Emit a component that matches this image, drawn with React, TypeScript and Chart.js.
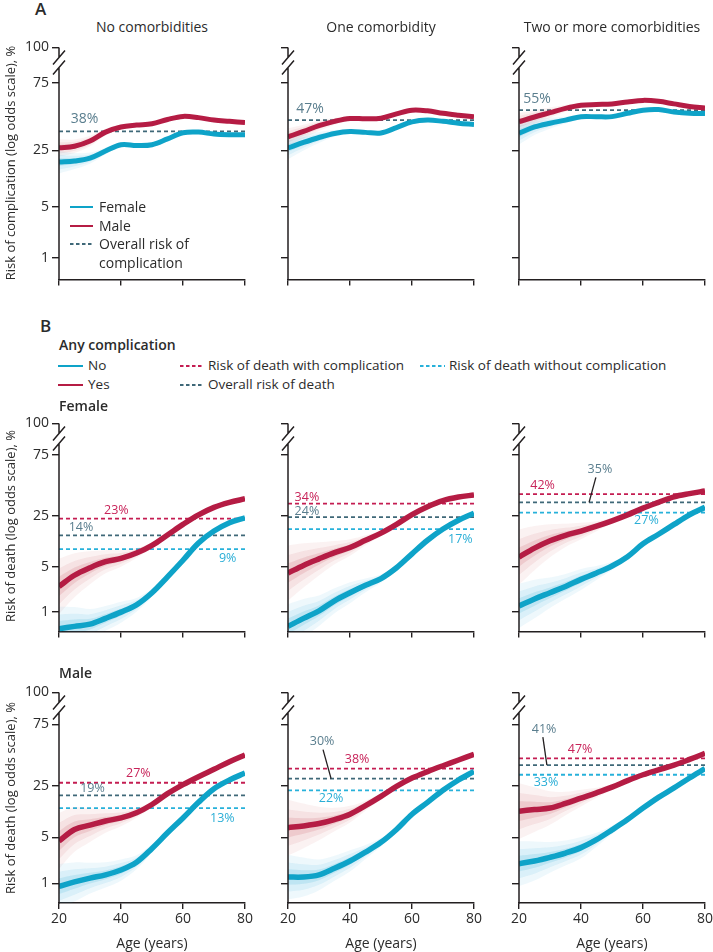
import React, { useEffect, useRef } from "react";
import { Chart, registerables } from "chart.js";

Chart.register(...registerables);

const FONT = "'Open Sans', 'Noto Sans', sans-serif";
const TEXT = "#2b2b2b";
const AXIS = "#231f20";

// ---------- data ----------
const AGES = [20, 25, 30, 35, 40, 45, 50, 55, 60, 65, 70, 75, 80];
const X_TICKS = [20, 40, 60, 80];
const Y_TICKS_PCT = [1, 5, 25, 75];
const Y_TICK_LABELS = ["1", "5", "25", "75", "100"];
const COLUMN_TITLES = ["No comorbidities", "One comorbidity", "Two or more comorbidities"];

// Panel A: risk of complication (%)
const A_FEMALE_0 = [18.5, 19, 20.5, 24.5, 28.5, 28, 28.5, 32.5, 37, 37.5, 36, 35.5, 35.5];
const A_MALE_0 = [26.5, 27.5, 31, 37.5, 41.5, 43, 44, 47.5, 50, 49, 47, 46, 45];
const A_FEMALE_1 = [26.4, 30, 33.5, 36.5, 38, 37.3, 36.8, 41, 45.5, 47, 46, 44.5, 43.5];
const A_MALE_1 = [34, 38, 42.5, 46, 48.3, 48, 48.5, 52, 55, 54.5, 52.5, 51, 49.7];
const A_FEMALE_2 = [36.7, 41.5, 44.5, 47, 49.7, 49.7, 49.8, 52.5, 55, 55.5, 53.6, 52.5, 52.3];
const A_MALE_2 = [45.7, 49.5, 53, 56.5, 58.9, 59.5, 60, 61.5, 62.7, 62, 60, 58, 56.7];
const A_OVERALL = [38, 47, 55];

// Panel B: risk of death (%), female
const BF_NO_0 = [0.55, 0.6, 0.65, 0.8, 1.0, 1.3, 2.0, 3.5, 6.2, 11, 16, 20.5, 23.5];
const BF_YES_0 = [2.5, 3.7, 4.8, 5.9, 6.6, 7.9, 10.2, 14.2, 19.5, 25.5, 31, 35, 38];
const BF_NO_1 = [0.6, 0.8, 1.05, 1.5, 2, 2.6, 3.3, 4.8, 7.7, 12, 17, 22, 26.7];
const BF_YES_1 = [4, 5.2, 6.5, 8, 9.5, 12, 15, 19.5, 25.7, 31.5, 36.5, 39.5, 41.3];
const BF_NO_2 = [1.25, 1.6, 2, 2.5, 3.2, 4, 5.1, 7, 10.7, 14.5, 19.5, 25.5, 31];
const BF_YES_2 = [6.9, 9.3, 11.8, 14, 16, 18.5, 21.6, 25.5, 30.4, 35, 39.7, 42.5, 44.8];
const BF_WITH = [23, 34, 42];
const BF_OVERALL = [14, 24, 35];
const BF_WITHOUT = [9, 17, 27];

// Panel B: risk of death (%), male
const BM_NO_0 = [0.9, 1.05, 1.2, 1.35, 1.6, 2.1, 3.4, 5.8, 9.5, 15.5, 23, 29, 34.3];
const BM_YES_0 = [4.4, 6.5, 7.5, 8.6, 9.5, 11.2, 14.5, 20, 25.7, 31.5, 37.5, 44, 50];
const BM_NO_1 = [1.25, 1.25, 1.35, 1.7, 2.2, 3, 4.2, 6.5, 10.7, 15.5, 22, 29, 35.7];
const BM_YES_1 = [6.9, 7.3, 7.9, 9, 10.7, 14, 18.5, 24.5, 30.4, 35.5, 40.5, 45.5, 50.5];
const BM_NO_2 = [2, 2.2, 2.5, 2.9, 3.5, 4.6, 6.4, 9, 13, 18, 23.5, 30.5, 38];
const BM_YES_2 = [11.8, 12.4, 13, 15, 17.6, 20.5, 24, 28.5, 33, 37, 41, 46, 51.4];
const BM_WITH = [27, 38, 47];
const BM_OVERALL = [19, 30, 41];
const BM_WITHOUT = [13, 22, 33];

// spread of the bootstrap bundle (log odds units)
const SPREAD_A_MALE = [0.28, 0.22, 0.17, 0.11, 0.08, 0.06, 0.06, 0.06, 0.06, 0.06, 0.06, 0.06, 0.06];
const SPREAD_A_FEMALE = [0.37, 0.26, 0.18, 0.11, 0.08, 0.06, 0.06, 0.06, 0.06, 0.06, 0.06, 0.06, 0.06];
const SPREAD_B_YES = [1.0, 0.8, 0.6, 0.42, 0.3, 0.18, 0.1, 0.08, 0.07, 0.07, 0.07, 0.07, 0.07];
const SPREAD_B_NO = [0.8, 0.7, 0.55, 0.45, 0.38, 0.25, 0.15, 0.09, 0.07, 0.07, 0.07, 0.07, 0.07];

// ---------- styles / layout ----------
const BLUE = "#0ea3c8";
const RED = "#b51c44";
const BLUE_BANDS = ["rgba(40,168,212,0.08)", "rgba(40,168,212,0.10)", "rgba(20,160,205,0.14)"];
const RED_BANDS = ["rgba(205,85,95,0.08)", "rgba(200,75,90,0.10)", "rgba(190,55,75,0.14)"];
const BAND_FRACTIONS = [1, 0.65, 0.35];
const DASH_SLATE = "#3f6878";
const DASH_RED = "#c41d52";
const DASH_CYAN = "#27b1da";
const LBL_SLATE = "#5a7e8e";
const LBL_RED = "#c8245a";
const LBL_CYAN = "#2aaed6";

const Y_MIN = -5.3;
const Y_TOP = 2.24;
const COL_X0 = [59, 288, 519];
const PLOT_W = 186;
const ROWS = [
  { top: 44, h: 237, xLabels: false },
  { top: 420, h: 213, xLabels: false },
  { top: 689, h: 214, xLabels: true },
];

const A_LABEL_POS = [
  { age: 28.2, dy: -12 },
  { age: 27.1, dy: -11 },
  { age: 25.8, dy: -11 },
];
// order per column: with, overall, without
const BF_LABEL_POS = [
  [{ age: 38.5, dy: -8 }, { age: 27.1, dy: -8 }, { age: 74.4, dy: 9 }],
  [{ age: 26.1, dy: -6 }, { age: 26.1, dy: -6 }, { age: 75.6, dy: 10 }],
  [{ age: 27.6, dy: -9 }, { age: 46.1, dy: -33, leader: [44.8, -25, 42.6, 0] }, { age: 61.1, dy: 8 }],
];
const BM_LABEL_POS = [
  [{ age: 45.6, dy: -9 }, { age: 30.8, dy: -7 }, { age: 72.7, dy: 10 }],
  [{ age: 42.3, dy: -9 }, { age: 31, dy: -37, leader: [31.3, -29, 33.9, 0] }, { age: 33.9, dy: 8 }],
  [{ age: 39.7, dy: -9 }, { age: 28.1, dy: -36, leader: [27.7, -28, 29, 0] }, { age: 28.7, dy: 8 }],
];

const logit = (p: number) => Math.log(p / (100 - p));

type DashSpec = {
  value: number;
  color: string;
  textColor: string;
  age: number;
  dy: number;
  fontSize: number;
  leader?: number[];
};
type SeriesSpec = { values: number[]; spread: number[]; color: string; bands: string[]; width: number };
type PanelSpec = {
  row: number;
  col: number;
  series: SeriesSpec[];
  dashes: DashSpec[];
};

function buildPanels(): PanelSpec[] {
  const out: PanelSpec[] = [];
  const aF = [A_FEMALE_0, A_FEMALE_1, A_FEMALE_2];
  const aM = [A_MALE_0, A_MALE_1, A_MALE_2];
  for (let c = 0; c < 3; c++) {
    out.push({
      row: 0,
      col: c,
      series: [
        { values: aF[c], spread: SPREAD_A_FEMALE, color: BLUE, bands: BLUE_BANDS, width: 5 },
        { values: aM[c], spread: SPREAD_A_MALE, color: RED, bands: RED_BANDS, width: 5 },
      ],
      dashes: [
        { value: A_OVERALL[c], color: DASH_SLATE, textColor: LBL_SLATE, fontSize: 14, ...A_LABEL_POS[c] },
      ],
    });
  }
  const groups = [
    { row: 1, no: [BF_NO_0, BF_NO_1, BF_NO_2], yes: [BF_YES_0, BF_YES_1, BF_YES_2], w: BF_WITH, o: BF_OVERALL, wo: BF_WITHOUT, pos: BF_LABEL_POS },
    { row: 2, no: [BM_NO_0, BM_NO_1, BM_NO_2], yes: [BM_YES_0, BM_YES_1, BM_YES_2], w: BM_WITH, o: BM_OVERALL, wo: BM_WITHOUT, pos: BM_LABEL_POS },
  ];
  for (const g of groups) {
    for (let c = 0; c < 3; c++) {
      out.push({
        row: g.row,
        col: c,
        series: [
          { values: g.no[c], spread: SPREAD_B_NO, color: BLUE, bands: BLUE_BANDS, width: 5.5 },
          { values: g.yes[c], spread: SPREAD_B_YES, color: RED, bands: RED_BANDS, width: 5.5 },
        ],
        dashes: [
          { value: g.w[c], color: DASH_RED, textColor: LBL_RED, fontSize: 12.5, ...g.pos[c][0] },
          { value: g.o[c], color: DASH_SLATE, textColor: LBL_SLATE, fontSize: 12.5, ...g.pos[c][1] },
          { value: g.wo[c], color: DASH_CYAN, textColor: LBL_CYAN, fontSize: 12.5, ...g.pos[c][2] },
        ],
      });
    }
  }
  return out;
}

const PANELS = buildPanels();

function Panel({ spec }: { spec: PanelSpec }) {
  const ref = useRef<HTMLCanvasElement>(null);
  const row = ROWS[spec.row];
  const xH = row.xLabels ? 40 : 10;
  const w = 50 + PLOT_W + 10;
  const h = 8 + row.h + xH;
  const left = COL_X0[spec.col] - 50;
  const top = row.top - 8;
  const showY = spec.col === 0;

  useEffect(() => {
    if (!ref.current) return;
    const pts = (arr: number[]) => AGES.map((a, i) => ({ x: a, y: arr[i] }));
    const datasets: any[] = [];
    spec.dashes.forEach((d) => {
      datasets.push({
        data: [
          { x: 20, y: logit(d.value) },
          { x: 80, y: logit(d.value) },
        ],
        borderColor: d.color,
        borderWidth: 1.8,
        borderDash: [4, 3],
        pointRadius: 0,
        fill: false,
        order: 5,
      });
    });
    spec.series.forEach((s) => {
      const mid = s.values.map(logit);
      const base = { pointRadius: 0, borderWidth: 0, tension: 0.35, clip: 0, order: 3 };
      BAND_FRACTIONS.forEach((f, k) => {
        datasets.push({ ...base, data: pts(mid.map((m, i) => m - s.spread[i] * f)), fill: false });
        datasets.push({ ...base, data: pts(mid.map((m, i) => m + s.spread[i] * f)), fill: "-1", backgroundColor: s.bands[k] });
      });
    });
    spec.series.forEach((s) => {
      datasets.push({
        data: pts(s.values.map(logit)),
        borderColor: s.color,
        borderWidth: s.width,
        pointRadius: 0,
        tension: 0.35,
        fill: false,
        clip: 0,
        order: 0,
      });
    });

    const brokenAxis = {
      id: "brokenAxis",
      afterDraw(chart: any) {
        const { ctx, chartArea } = chart;
        const x = chartArea.left;
        const yTop = chart.scales.y.getPixelForValue(Y_TOP);
        ctx.save();
        ctx.strokeStyle = AXIS;
        ctx.lineWidth = 1.5;
        ctx.beginPath();
        ctx.moveTo(x, yTop);
        ctx.lineTo(x, yTop + 10);
        ctx.moveTo(x, yTop + 20);
        ctx.lineTo(x, chartArea.bottom + 0.75);
        ctx.moveTo(x - 6, yTop + 17);
        ctx.lineTo(x + 6, yTop + 3);
        ctx.moveTo(x - 6, yTop + 27);
        ctx.lineTo(x + 6, yTop + 13);
        ctx.stroke();
        ctx.restore();
      },
    };
    const pctLabels = {
      id: "pctLabels",
      afterDatasetsDraw(chart: any) {
        const { ctx } = chart;
        const xs = chart.scales.x;
        const ys = chart.scales.y;
        ctx.save();
        spec.dashes.forEach((d) => {
          const yLine = ys.getPixelForValue(logit(d.value));
          ctx.font = `${d.fontSize}px ${FONT}`;
          ctx.fillStyle = d.textColor;
          ctx.textAlign = "center";
          ctx.textBaseline = "middle";
          ctx.fillText(`${d.value}%`, xs.getPixelForValue(d.age), yLine + d.dy);
          if (d.leader) {
            ctx.strokeStyle = AXIS;
            ctx.lineWidth = 1.3;
            ctx.beginPath();
            ctx.moveTo(xs.getPixelForValue(d.leader[0]), yLine + d.leader[1]);
            ctx.lineTo(xs.getPixelForValue(d.leader[2]), yLine + d.leader[3]);
            ctx.stroke();
          }
        });
        ctx.restore();
      },
    };

    const chart = new Chart(ref.current, {
      type: "line",
      data: { datasets },
      options: {
        responsive: false,
        animation: false,
        devicePixelRatio: 1,
        layout: { padding: { top: 8, right: 10, left: 0, bottom: 0 } },
        plugins: { legend: { display: false }, tooltip: { enabled: false } },
        scales: {
          x: {
            type: "linear",
            min: 20,
            max: 80,
            afterBuildTicks: (s: any) => {
              s.ticks = X_TICKS.map((v) => ({ value: v }));
            },
            afterFit: (s: any) => {
              s.height = xH;
            },
            grid: { drawOnChartArea: false, drawTicks: true, tickLength: 6, color: AXIS, lineWidth: 1.4 },
            border: { display: true, color: AXIS, width: 1.5 },
            ticks: {
              callback: (v: any) => (row.xLabels ? String(v) : ""),
              font: { family: FONT, size: 14 },
              color: TEXT,
              padding: 2,
              maxRotation: 0,
              autoSkip: false,
            },
          },
          y: {
            type: "linear",
            min: Y_MIN,
            max: Y_TOP,
            afterBuildTicks: (s: any) => {
              s.ticks = [...Y_TICKS_PCT.map((p) => ({ value: logit(p) })), { value: Y_TOP }];
            },
            afterFit: (s: any) => {
              s.width = 50;
            },
            grid: { drawOnChartArea: false, drawTicks: true, tickLength: 7, color: AXIS, lineWidth: 1.4 },
            border: { display: false },
            ticks: {
              callback: (_v: any, i: number) => (showY ? Y_TICK_LABELS[i] : ""),
              font: { family: FONT, size: 14 },
              color: TEXT,
              padding: 3,
              autoSkip: false,
            },
          },
        },
      } as any,
      plugins: [brokenAxis, pctLabels],
    });
    return () => chart.destroy();
  }, []);

  return (
    <canvas
      ref={ref}
      width={w}
      height={h}
      style={{ position: "absolute", left, top, width: w, height: h }}
    />
  );
}

function Txt({
  x,
  cy,
  children,
  size = 14,
  weight = 400,
  color = TEXT,
  center = false,
}: {
  x: number;
  cy: number;
  children: React.ReactNode;
  size?: number;
  weight?: number;
  color?: string;
  center?: boolean;
}) {
  return (
    <div
      style={{
        position: "absolute",
        left: x,
        top: cy,
        transform: center ? "translate(-50%, -50%)" : "translateY(-50%)",
        fontFamily: FONT,
        fontSize: size,
        fontWeight: weight,
        color,
        lineHeight: 1,
        whiteSpace: "nowrap",
      }}
    >
      {children}
    </div>
  );
}

function VTxt({ x, cy, children }: { x: number; cy: number; children: React.ReactNode }) {
  return (
    <div
      style={{
        position: "absolute",
        left: x,
        top: cy,
        transform: "translate(-50%, -50%) rotate(-90deg)",
        fontFamily: FONT,
        fontSize: 13,
        color: TEXT,
        lineHeight: 1,
        whiteSpace: "nowrap",
      }}
    >
      {children}
    </div>
  );
}

export default function App() {
  const colCenters = COL_X0.map((x) => x + PLOT_W / 2);
  return (
    <div style={{ position: "absolute", left: 0, top: 0, width: 713, height: 952, background: "#fff", overflow: "hidden" }}>
      {PANELS.map((p, i) => (
        <Panel key={i} spec={p} />
      ))}

      <Txt x={35} cy={8} size={17} weight={600}>A</Txt>
      <Txt x={40} cy={325} size={17} weight={600}>B</Txt>
      {COLUMN_TITLES.map((t, i) => (
        <Txt key={t} x={colCenters[i]} cy={27} center size={14}>
          {t}
        </Txt>
      ))}
      {colCenters.map((c, i) => (
        <Txt key={"age" + i} x={c} cy={943} center size={14}>
          Age (years)
        </Txt>
      ))}

      <VTxt x={10} cy={163}>Risk of complication (log odds scale), %</VTxt>
      <VTxt x={10} cy={526}>Risk of death (log odds scale), %</VTxt>
      <VTxt x={10} cy={798}>Risk of death (log odds scale), %</VTxt>

      {/* legend A */}
      <Txt x={99} cy={207}>Female</Txt>
      <Txt x={99} cy={226}>Male</Txt>
      <Txt x={99} cy={244}>Overall risk of</Txt>
      <Txt x={99} cy={263}>complication</Txt>

      {/* legend B */}
      <Txt x={59} cy={345} weight={600} size={14}>Any complication</Txt>
      <Txt x={88} cy={366} size={13.5}>No</Txt>
      <Txt x={88} cy={385} size={13.5}>Yes</Txt>
      <Txt x={208} cy={366} size={13.5}>Risk of death with complication</Txt>
      <Txt x={208} cy={385} size={13.5}>Overall risk of death</Txt>
      <Txt x={449} cy={366} size={13.5}>Risk of death without complication</Txt>
      <Txt x={59} cy={406} weight={600} size={14}>Female</Txt>
      <Txt x={59} cy={673} weight={600} size={14}>Male</Txt>

      <svg width={713} height={952} style={{ position: "absolute", left: 0, top: 0, pointerEvents: "none" }}>
        <line x1={70} x2={93} y1={207} y2={207} stroke={BLUE} strokeWidth={2} />
        <line x1={70} x2={93} y1={226} y2={226} stroke={RED} strokeWidth={2} />
        <line x1={70} x2={93} y1={244} y2={244} stroke={DASH_SLATE} strokeWidth={1.8} strokeDasharray="3.5 2.5" />
        <line x1={58} x2={83} y1={366} y2={366} stroke={BLUE} strokeWidth={2} />
        <line x1={58} x2={83} y1={385} y2={385} stroke={RED} strokeWidth={2} />
        <line x1={180} x2={203} y1={366} y2={366} stroke={DASH_RED} strokeWidth={1.8} strokeDasharray="3.5 2.5" />
        <line x1={180} x2={203} y1={385} y2={385} stroke={DASH_SLATE} strokeWidth={1.8} strokeDasharray="3.5 2.5" />
        <line x1={420} x2={445} y1={366} y2={366} stroke={DASH_CYAN} strokeWidth={1.8} strokeDasharray="3.5 2.5" />
      </svg>
    </div>
  );
}
